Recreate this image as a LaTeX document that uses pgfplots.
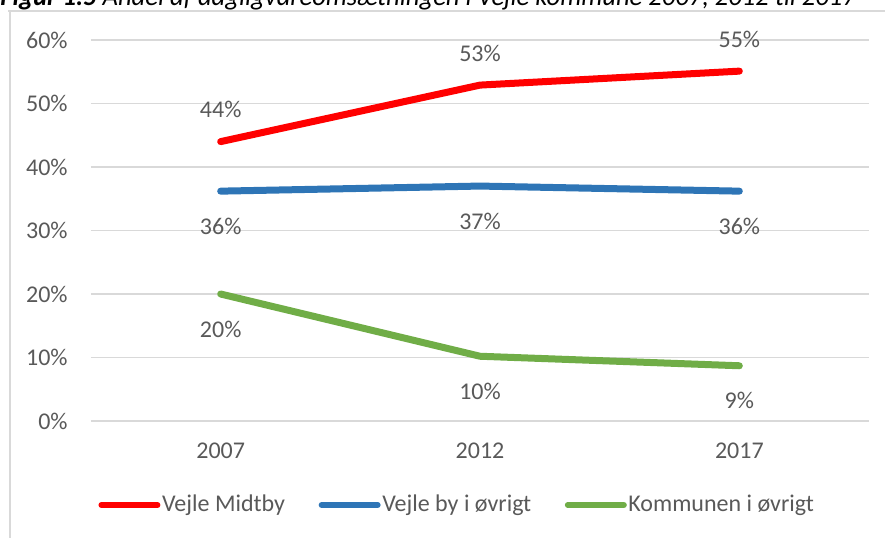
\documentclass[border=0pt]{standalone}
\usepackage{pgfplots}
\pgfplotsset{compat=1.18}
\usepackage{fontspec}
\setmainfont{Carlito}
\definecolor{txt}{HTML}{595959}
\definecolor{grd}{HTML}{D9D9D9}
\definecolor{cred}{HTML}{FF0000}
\definecolor{cblue}{HTML}{2E75B6}
\definecolor{cgreen}{HTML}{70AD47}
\begin{document}
\begin{tikzpicture}
\useasboundingbox (0pt,0pt) rectangle (442.5pt,-268.5pt);
\clip (0pt,0pt) rectangle (442.5pt,-268.5pt);
\draw[grd, line width=0.75pt] (5pt,-5.5pt) -- (5pt,-290pt);
\draw[grd, line width=0.75pt] (4pt,-5.5pt) -- (460pt,-5.5pt);
\node[anchor=base west, inner sep=0pt, font=\fontsize{13.3pt}{15pt}\selectfont\itshape] at (0pt,-2.9pt) {\textbf{Figur 1.5} Andel af dagligvareomsætningen i Vejle kommune 2007, 2012 til 2017};
\begin{axis}[
  at={(45.5pt,-210.5pt)}, anchor=south west,
  scale only axis, width=389pt, height=190.5pt,
  xmin=-0.5, xmax=2.5, ymin=0, ymax=60,
  axis line style={draw=none},
  major tick length=0pt,
  ymajorgrids, grid style={grd, line width=0.75pt},
  xtick={0,1,2}, xticklabels={2007,2012,2017},
  ytick={0,10,...,60},
  yticklabel={\pgfmathprintnumber{\tick}\%},
  /pgf/number format/assume math mode=true,
  tick label style={font=\fontsize{12pt}{14pt}\selectfont, text=txt},
  yticklabel style={anchor=east, inner sep=0pt, xshift=-11.5pt},
  xticklabel style={anchor=center, inner sep=0pt, yshift=-15pt},
  clip=false,
  legend columns=3,
  legend style={at={(0.4704,-0.2205)}, anchor=center, draw=none, fill=none,
    font=\fontsize{12pt}{14pt}\selectfont, text=txt, inner sep=0pt,
    /tikz/every even column/.append style={column sep=16pt},
    nodes={inner sep=0.8pt}},
  legend image code/.code={\draw[#1, line width=3pt, line cap=round] (0pt,0pt) -- (28pt,0pt);},
  nodes near coords={\pgfmathprintnumber[fixed,precision=0]{\pgfplotspointmeta}\%},
  every node near coord/.append style={font=\fontsize{12pt}{14pt}\selectfont, text=txt, anchor=center, inner sep=0pt},
]
\addplot[cred, line width=3.5pt, line cap=round, line join=round, every node near coord/.append style={yshift=16pt}] coordinates {(0,44.0) (1,52.9) (2,55.1)};
\addlegendentry{Vejle Midtby}
\addplot[cblue, line width=3.5pt, line cap=round, line join=round, every node near coord/.append style={yshift=-17.5pt}] coordinates {(0,36.2) (1,37.0) (2,36.2)};
\addlegendentry{Vejle by i øvrigt}
\addplot[cgreen, line width=3.5pt, line cap=round, line join=round, every node near coord/.append style={yshift=-17.5pt}] coordinates {(0,20.0) (1,10.2) (2,8.7)};
\addlegendentry{Kommunen i øvrigt}
\end{axis}
\end{tikzpicture}
\end{document}
